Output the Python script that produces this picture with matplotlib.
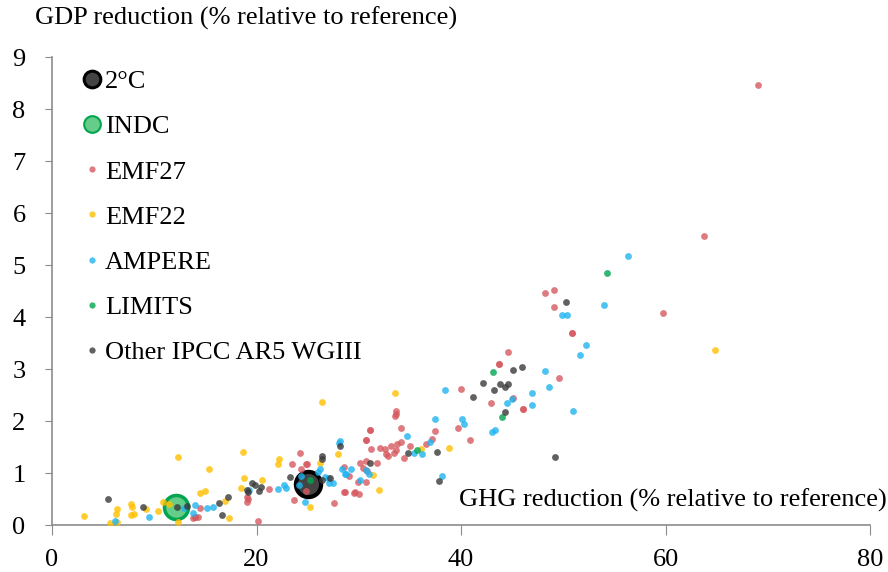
#!/usr/bin/env python3
"""
Scatter of GDP reduction vs GHG reduction across model intercomparison projects.
"""

import matplotlib
matplotlib.use('Agg')
import matplotlib.pyplot as plt
from matplotlib.lines import Line2D

plt.rcParams['font.family'] = ['Liberation Serif', 'DejaVu Serif']

# GHG reduction (%), GDP reduction (%) per project
emf27_x = [14.5, 13.8, 14.0, 14.0, 14.3, 24.3, 23.5, 24.8, 24.9, 24.4, 19.1, 19.2, 19.1, 21.2,
           27.6, 23.7, 20.1, 28.6, 28.7, 24.8, 33.6, 33.5, 33.6, 40.0, 31.1, 31.1, 34.1, 37.5,
           39.7, 40.9, 30.7, 30.7, 31.2, 32.1, 32.6, 33.2, 33.7, 34.1, 33.6, 33.4, 32.7, 32.9,
           35.0, 34.4, 36.6, 37.2, 30.1, 30.7, 31.8, 30.4, 30.8, 29.9, 30.7, 29.0, 28.6, 29.5,
           29.6, 30.0, 48.2, 49.1, 49.1, 50.9, 50.9, 44.6, 43.7, 43.7, 49.6, 42.9, 45.1, 46.1,
           46.1, 69.0, 63.8, 59.8]
emf27_y = [0.33, 0.13, 0.15, 0.15, 0.16, 1.39, 1.17, 1.17, 1.17, 1.07, 0.54, 0.50, 0.44, 0.69,
           0.43, 0.48, 0.08, 1.12, 0.63, 0.65, 2.19, 2.10, 2.14, 2.62, 1.83, 1.83, 1.86, 1.81,
           1.86, 1.63, 1.63, 1.63, 1.46, 1.49, 1.46, 1.52, 1.55, 1.59, 1.44, 1.38, 1.37, 1.33,
           1.51, 1.28, 1.56, 1.66, 1.20, 1.23, 1.20, 1.09, 1.04, 0.82, 0.83, 0.94, 0.63, 0.61,
           0.64, 0.60, 4.47, 4.52, 4.20, 3.69, 3.69, 3.33, 3.10, 3.10, 2.82, 2.35, 2.45, 2.24,
           2.24, 8.46, 5.56, 4.08]

emf22_x = [12.3, 15.4, 3.1, 6.4, 6.3, 5.7, 6.4, 7.7, 7.8, 7.7, 8.0, 9.2, 10.4, 10.9, 11.4,
           12.3, 14.5, 15.0, 18.7, 22.2, 22.1, 18.8, 20.5, 18.5, 26.2, 25.2, 17.3, 16.9, 28.0,
           33.5, 36.1, 38.8, 31.4, 32.0, 26.4, 64.8]
emf22_y = [1.31, 1.07, 0.18, 0.30, 0.22, 0.03, 0.06, 0.40, 0.34, 0.20, 0.22, 0.30, 0.26, 0.45,
           0.40, 0.06, 0.62, 0.65, 1.41, 1.26, 1.17, 0.90, 0.87, 0.71, 1.19, 0.35, 0.13, 0.47,
           1.37, 2.54, 1.46, 1.49, 0.97, 0.67, 2.37, 3.37]

ampere_x = [6.2, 9.5, 12.9, 14.0, 13.8, 15.2, 15.7, 19.3, 22.1, 22.7, 22.9, 26.2, 26.0, 26.7,
            27.0, 27.1, 27.5, 24.7, 28.1, 28.2, 28.4, 28.8, 24.2, 24.4, 38.4, 37.5, 34.7, 40.1,
            40.3, 35.4, 36.2, 37.0, 38.1, 30.7, 31.0, 29.2, 28.7, 30.1, 49.9, 50.4, 52.2, 51.6,
            48.2, 48.6, 44.5, 45.0, 46.9, 46.9, 51.0, 43.0, 43.3, 56.3, 54.0]
ampere_y = [0.08, 0.15, 0.33, 0.38, 0.24, 0.33, 0.35, 0.67, 0.70, 0.76, 0.72, 1.07, 1.01, 0.93,
            0.90, 0.80, 0.80, 0.44, 1.58, 1.62, 1.07, 0.99, 0.76, 0.94, 2.60, 2.03, 1.71, 2.03,
            1.94, 1.39, 1.37, 1.60, 0.95, 1.06, 0.98, 1.07, 0.98, 0.87, 4.03, 4.03, 3.46, 3.26,
            2.96, 2.65, 2.35, 2.42, 2.54, 2.31, 2.20, 1.78, 1.83, 5.18, 4.24]

limits_x = [35.7, 43.1, 44.0, 54.3, 25.2]
limits_y = [1.44, 2.94, 2.08, 4.84, 0.87]

other_x = [5.5, 8.9, 12.2, 13.2, 19.6, 19.9, 20.4, 19.1, 19.2, 20.2, 23.3, 26.4, 26.4, 26.4,
           27.2, 16.6, 16.3, 17.2, 28.2, 41.2, 34.8, 37.7, 37.8, 31.1, 50.3, 45.1, 46.0, 42.2,
           43.2, 43.8, 44.3, 44.6, 44.3, 49.2]
other_y = [0.50, 0.35, 0.35, 0.37, 0.81, 0.77, 0.74, 0.67, 0.64, 0.66, 0.92, 1.33, 1.26, 0.87,
           0.90, 0.19, 0.43, 0.54, 1.52, 2.46, 1.38, 1.41, 0.85, 1.19, 4.28, 2.99, 3.04, 2.74,
           2.60, 2.71, 2.66, 2.71, 2.18, 1.31]

two_deg = (25.0, 0.78)
indc = (12.1, 0.35)

series = [
    ('EMF27', emf27_x, emf27_y, '#D65A60'),
    ('EMF22', emf22_x, emf22_y, '#FFC000'),
    ('AMPERE', ampere_x, ampere_y, '#1FB4F0'),
    ('LIMITS', limits_x, limits_y, '#00A550'),
    ('Other IPCC AR5 WGIII', other_x, other_y, '#3A3A3A'),
]

fig = plt.figure(figsize=(8.88, 5.72), dpi=100)
ax = fig.add_axes([52 / 888, 1 - 525 / 572, (870 - 52) / 888, (525 - 57) / 572])

# big highlight markers underneath the scenario dots
ax.scatter([two_deg[0]], [two_deg[1]], s=330, color='#444444', edgecolor='black',
           linewidth=3, zorder=2)
ax.scatter([indc[0]], [indc[1]], s=300, color='#66CC8A', edgecolor='#00A550',
           linewidth=2.5, zorder=2)

for name, xs, ys, col in series:
    ax.scatter(xs, ys, s=24, color=col, alpha=0.8, linewidth=0, zorder=3)

ax.set_xlim(0, 80)
ax.set_ylim(0, 9)
ax.set_xticks([0, 20, 40, 60, 80])
ax.set_yticks(range(10))
for side in ['top', 'right']:
    ax.spines[side].set_visible(False)
for side in ['left', 'bottom']:
    ax.spines[side].set_color('#8C8C8C')
    ax.spines[side].set_linewidth(1.2)
ax.tick_params(axis='x', direction='out', length=7, color='#8C8C8C', labelsize=19, pad=10)
ax.tick_params(axis='y', direction='out', length=5, color='#8C8C8C', labelsize=19, pad=14)

ax.text(81.6, 0.48, 'GHG reduction (% relative to reference)', ha='right', va='center',
        fontsize=19, clip_on=False)
fig.text(35 / 888, 1 - 18 / 572, 'GDP reduction (% relative to reference)', ha='left',
         va='center', fontsize=19)

handles = [
    Line2D([], [], marker='o', linestyle='', markersize=12, markerfacecolor='#444444',
           markeredgecolor='black', markeredgewidth=2.2),
    Line2D([], [], marker='o', linestyle='', markersize=12, markerfacecolor='#66CC8A',
           markeredgecolor='#00A550', markeredgewidth=1.5),
]
labels = ['2°C', 'INDC']
for name, xs, ys, col in series:
    handles.append(Line2D([], [], marker='o', linestyle='', markersize=4.5,
                          markerfacecolor=col, markeredgewidth=0, alpha=0.8))
    labels.append(name)

ax.legend(handles, labels, loc='upper left', bbox_to_anchor=(0.01, 0.995), frameon=False,
          fontsize=19, labelspacing=0.82, handletextpad=-0.3, handlelength=1.6,
          borderaxespad=0)

fig.savefig('out.png', dpi=100)
